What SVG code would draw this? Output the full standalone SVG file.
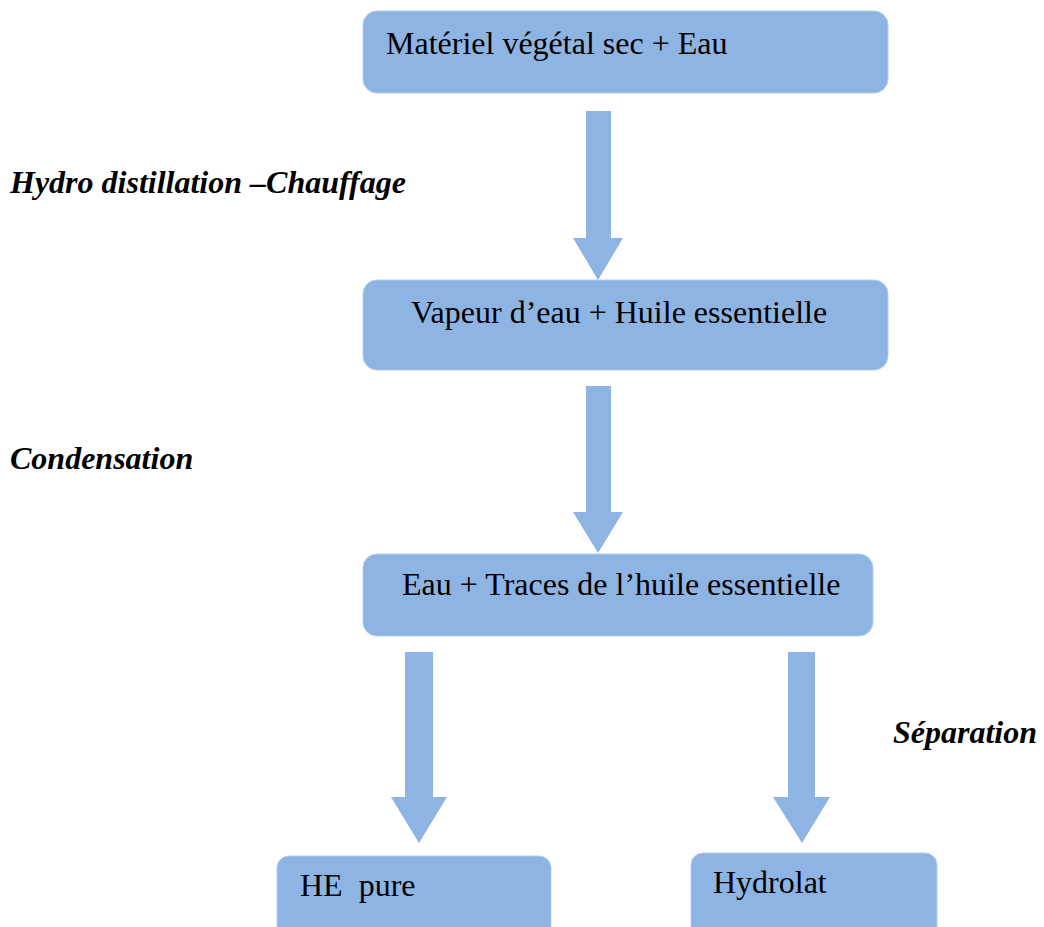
<svg xmlns="http://www.w3.org/2000/svg" width="1044" height="927" viewBox="0 0 1044 927">
<style>
.box{fill:#8EB4E3;stroke:#B4CDEC;stroke-width:1}
.arr{fill:#8EB4E3}
</style>
<rect width="1044" height="927" fill="#fff"/>
<g id="connectors">
<polygon class="arr" points="586,111 611,111 611,238 623,238 598,280 573,238 586,238"/>
<polygon class="arr" points="586,386 611,386 611,512 623,512 598,553 573,512 586,512"/>
<polygon class="arr" points="405,652 433,652 433,797 447,797 419,843 391,797 405,797"/>
<polygon class="arr" points="788,652 815,652 815,797 830,797 802,843 773,797 788,797"/>
</g>
<g id="n1"><rect class="box" x="363" y="11" width="525" height="82" rx="14"/><text x="386" y="54" font-family="'Liberation Serif', serif" font-size="32">Matériel végétal sec + Eau</text></g>
<g id="n2"><rect class="box" x="363" y="280" width="525" height="90" rx="14"/><text x="411" y="323" font-family="'Liberation Serif', serif" font-size="32">Vapeur d’eau + Huile essentielle</text></g>
<g id="n3"><rect class="box" x="363" y="554" width="510" height="82" rx="14"/><text x="402" y="595" font-family="'Liberation Serif', serif" font-size="32">Eau + Traces de l’huile essentielle</text></g>
<g id="n4"><rect class="box" x="277" y="856" width="274" height="90" rx="12"/><text x="300" y="896" font-family="'Liberation Serif', serif" font-size="32" xml:space="preserve">HE  pure</text></g>
<g id="n5"><rect class="box" x="691" y="853" width="246" height="90" rx="12"/><text x="713" y="893" font-family="'Liberation Serif', serif" font-size="32">Hydrolat</text></g>
<g id="labels">
<text x="10" y="193" font-family="'Liberation Serif', serif" font-size="32" font-weight="bold" font-style="italic">Hydro distillation –Chauffage</text>
<text x="10" y="469" font-family="'Liberation Serif', serif" font-size="32" font-weight="bold" font-style="italic">Condensation</text>
<text x="893" y="743" font-family="'Liberation Serif', serif" font-size="32" font-weight="bold" font-style="italic">Séparation</text>
</g>
</svg>
